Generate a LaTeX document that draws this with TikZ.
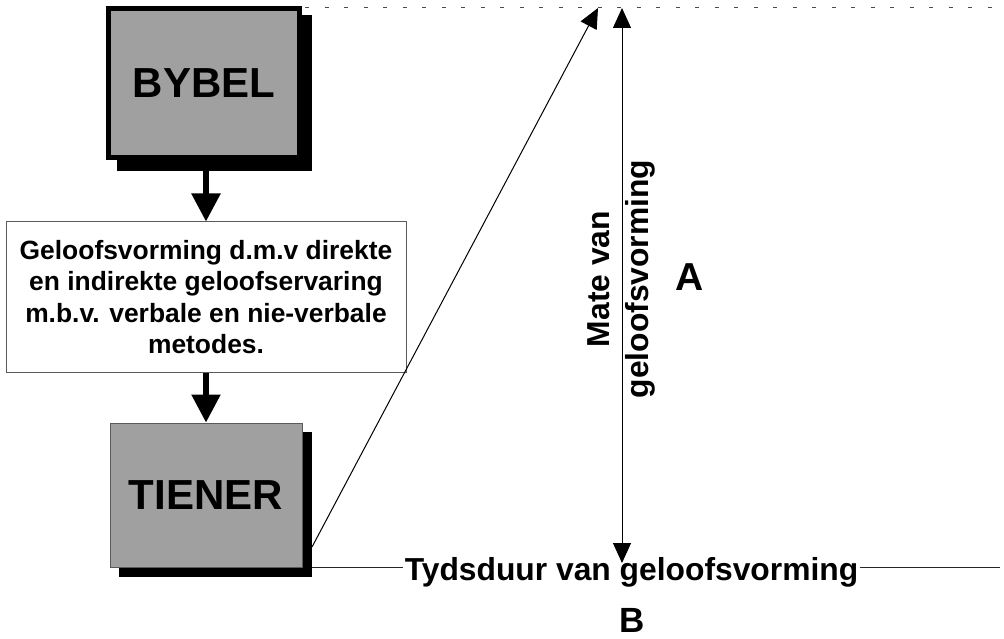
\documentclass[tikz,border=0pt]{standalone}
\usepackage{fontspec}
\setmainfont{Liberation Sans}
\usetikzlibrary{arrows.meta}
\definecolor{boxgrey}{RGB}{160,160,160}
\definecolor{edgegrey}{RGB}{90,90,90}
\tikzset{
  greybox/.style={draw=edgegrey, line width=1pt, fill=boxgrey, inner sep=0pt, minimum width=192pt, minimum height=144pt, font=\fontsize{42}{50}\selectfont\bfseries},
  bigarrow/.style={line width=5.5pt, -{Triangle[length=28pt,width=28pt]}},
  thinarrow/.style={line width=1pt, -{Triangle[length=20pt,width=18pt]}},
  bothway/.style={line width=1pt, {Triangle[length=20pt,width=18pt]}-{Triangle[length=20pt,width=18pt]}},
  axisline/.style={line width=1pt, draw=black!85},
  lbl/.style={inner sep=2pt, font=\fontsize{31.8}{39}\selectfont\bfseries}
}
\begin{document}
\begin{tikzpicture}[x=1pt,y=-1pt]
\useasboundingbox (0,0) rectangle (1004,639);
% dashed top line
\draw[line width=1pt, draw=black!70, dash pattern=on 4pt off 15.5pt] (305,8) -- (1004,8);
% shadows
\fill[black] (117,15) rectangle (312,171);
\fill[black] (119,432) rectangle (312,577);
% boxes
\node[greybox, draw=black, line width=5pt, minimum width=191pt, minimum height=149pt] (bybel) at (204,83) {BYBEL};
\node[greybox] (tiener) at (206,495) {TIENER};
\node[draw=edgegrey, line width=1pt, fill=white, minimum width=400pt, minimum height=150pt, inner sep=0pt, align=center,
      font=\fontsize{26.4}{31.3}\selectfont\bfseries] (textbox) at (206,297)
  {Geloofsvorming d.m.v direkte\\en indirekte geloofservaring\\m.b.v. verbale en nie-verbale\\metodes.};
% thick arrows
\draw[bigarrow] (bybel.south -| textbox.north) -- (textbox.north);
\draw[bigarrow] (textbox.south) -- (tiener.north);
% time axis
\node[lbl, anchor=base] (tyd) at (631.5,580) {Tydsduur van geloofsvorming};
\coordinate (origin) at (312,567);
\coordinate (xend) at (1000,567);
\draw[axisline] (origin) -- (origin -| tyd.west);
\draw[axisline] (xend -| tyd.east) -- (xend);
% diagonal arrow
\coordinate (dstart) at (312,547);
\coordinate (dtip) at (598,8);
\draw[thinarrow] (dstart) -- (dtip);
% vertical double arrow
\coordinate (vbot) at (622,563);
\coordinate (vtop) at (622,8);
\draw[bothway] (vbot) -- (vtop);
% vertical label
\node[lbl, rotate=90, align=center] (mate) at (621,279) {Mate van\\geloofsvorming};
\node[font=\fontsize{39}{46}\selectfont\bfseries, inner sep=0pt] (A) at (690,277) {A};
\node[font=\fontsize{35}{42}\selectfont\bfseries, inner sep=0pt] (B) at (632,620) {B};
\end{tikzpicture}
\end{document}
